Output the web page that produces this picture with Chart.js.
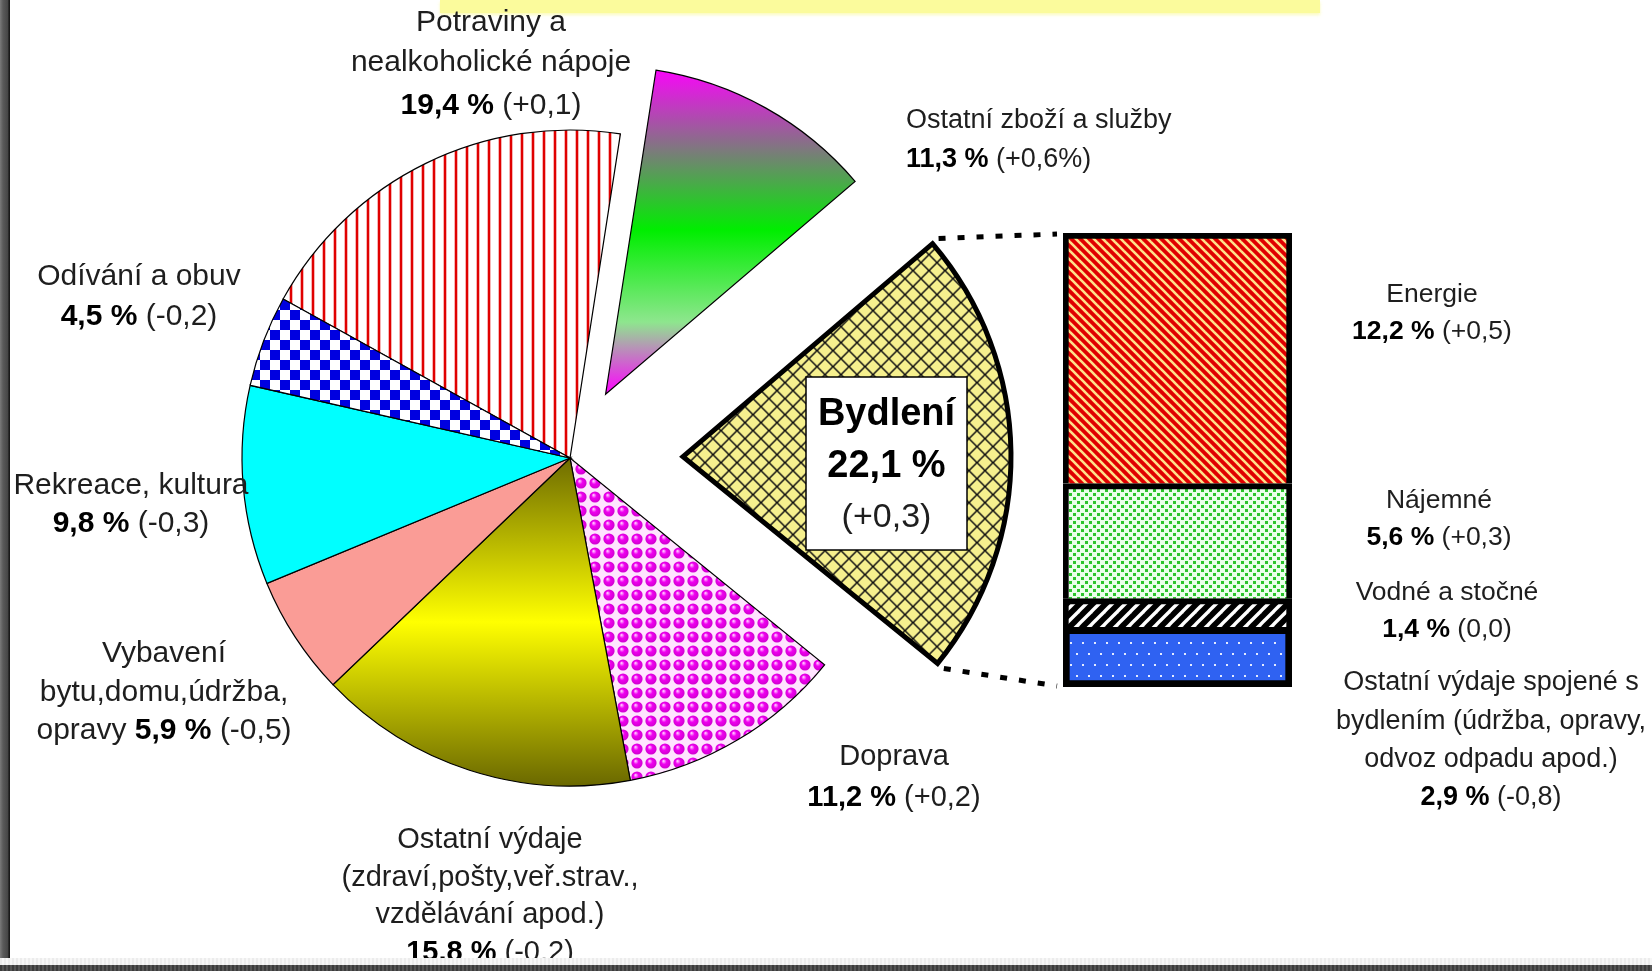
<!DOCTYPE html>
<html>
<head>
<meta charset="utf-8">
<script src="https://cdn.jsdelivr.net/npm/chart.js@4.4.1/dist/chart.umd.min.js"></script>
<style>
html,body{margin:0;padding:0;background:#fff;width:1652px;height:971px;overflow:hidden;}
#wrap{position:relative;width:1652px;height:971px;background:#fff;}
canvas{position:absolute;left:0;top:0;}
#topbar{position:absolute;left:440px;top:0;width:880px;height:13px;background:#fbfb9c;box-shadow:0 2px 3px rgba(250,250,160,0.7);}
#leftframe{position:absolute;left:0;top:0;width:10px;height:971px;z-index:5;
  background:linear-gradient(to right,#7a7a7a 0,#5a5a5a 3px,#454545 8px,#111 9px,#222 10px);}
#bottomfaint{position:absolute;left:0;top:958px;width:1652px;height:7px;z-index:5;
  background:repeating-linear-gradient(90deg,#ececec 0 2px,#f7f7f7 2px 4px);}
#bottomframe{position:absolute;left:0;top:965px;width:1652px;height:6px;z-index:6;
  background:repeating-linear-gradient(90deg,#3c3c3c 0 2px,#555 2px 4px);}
</style>
</head>
<body>
<div id="wrap">
  <div id="topbar"></div>
  <canvas id="pie" width="1652" height="971"></canvas>
  <canvas id="bar" width="1652" height="971"></canvas>
  <div id="leftframe"></div>
  <div id="bottomfaint"></div>
  <div id="bottomframe"></div>
</div>
<script>
// ---------------- DATA ----------------
const categories = [
  'Potraviny a nealkoholické nápoje',
  'Ostatní zboží a služby',
  'Bydlení',
  'Doprava',
  'Ostatní výdaje (zdraví,pošty,veř.strav., vzdělávání apod.)',
  'Vybavení bytu,domu,údržba, opravy',
  'Rekreace, kultura',
  'Odívání a obuv'
];
const shares  = [19.4, 11.3, 22.1, 11.2, 15.8, 5.9, 9.8, 4.5];
const changes = ['+0,1', '+0,6%', '+0,3', '+0,2', '-0,2', '-0,5', '-0,3', '-0,2'];

// housing breakdown, bottom -> top of the bar
const housingCategories = [
  'Ostatní výdaje spojené s bydlením (údržba, opravy, odvoz odpadu apod.)',
  'Vodné a stočné',
  'Nájemné',
  'Energie'
];
const housingShares  = [2.9, 1.4, 5.6, 12.2];
const housingChanges = ['-0,8', '0,0', '+0,3', '+0,5'];

// ---------------- LAYOUT / STYLE ----------------
const W = 1652, H = 971, CX = 570, CY = 458, R = 328;
const FONT = '"Liberation Sans", Arial, Helvetica, sans-serif';
const explode = [0, 73, 113, 0, 0, 0, 0, 0];
const fmt = v => v.toFixed(1).replace('.', ',');

function tile(w, h, draw) {
  const c = document.createElement('canvas');
  c.width = w; c.height = h;
  const g = c.getContext('2d');
  draw(g, w, h);
  return c;
}
function diag(g, p, dir, color, lw) {
  g.strokeStyle = color; g.lineWidth = lw; g.lineCap = 'square';
  for (let k = -1; k <= 1; k++) {
    g.beginPath();
    if (dir === '\\') { g.moveTo(k * p, 0); g.lineTo(k * p + p, p); }
    else { g.moveTo(k * p, p); g.lineTo(k * p + p, 0); }
    g.stroke();
  }
}

const pieCanvas = document.getElementById('pie');
const pctx = pieCanvas.getContext('2d');

// Potraviny: red vertical lines
const fPotr = pctx.createPattern(tile(11, 11, g => {
  g.fillStyle = '#fff'; g.fillRect(0, 0, 11, 11);
  g.fillStyle = '#f6b4b4'; g.fillRect(3, 0, 1, 11); g.fillRect(6, 0, 1, 11);
  g.fillStyle = '#e00000'; g.fillRect(4, 0, 2, 11);
}), 'repeat');
// Ostatní zboží: magenta - green - magenta vertical gradient
const fZbozi = pctx.createLinearGradient(0, CY - R, 0, CY);
fZbozi.addColorStop(0, '#ff00ff');
fZbozi.addColorStop(0.5, '#00ee00');
fZbozi.addColorStop(0.78, '#8ee68e');
fZbozi.addColorStop(1, '#ff00ff');
// Bydlení: pale yellow with diagonal cross hatch
const fByd = pctx.createPattern(tile(16, 16, g => {
  g.fillStyle = '#f6f08e'; g.fillRect(0, 0, 16, 16);
  diag(g, 16, '\\', '#111', 1.5);
  diag(g, 16, '/', '#111', 1.5);
}), 'repeat');
// Doprava: magenta spheres
const fDop = pctx.createPattern(tile(14, 14, g => {
  g.fillStyle = '#ffe4ff'; g.fillRect(0, 0, 14, 14);
  const gr = g.createRadialGradient(5.5, 5, 0.5, 7, 7, 6.5);
  gr.addColorStop(0, '#ffb8ff'); gr.addColorStop(0.35, '#f000f0'); gr.addColorStop(1, '#c800c8');
  g.fillStyle = gr; g.beginPath(); g.arc(7, 7, 5.6, 0, Math.PI * 2); g.fill();
}), 'repeat');
// Ostatní výdaje: olive - yellow - olive
const fVyd = pctx.createLinearGradient(0, CY, 0, CY + R);
fVyd.addColorStop(0, '#6e6c00');
fVyd.addColorStop(0.5, '#ffff00');
fVyd.addColorStop(1, '#6a6800');
// Vybavení: salmon
const fVyb = '#fa9c96';
// Rekreace: cyan
const fRek = '#00ffff';
// Odívání: blue checker
const fOdi = pctx.createPattern(tile(20, 20, g => {
  g.fillStyle = '#fff'; g.fillRect(0, 0, 20, 20);
  g.fillStyle = '#0000e0'; g.fillRect(0, 0, 10, 10); g.fillRect(10, 10, 10, 10);
}), 'repeat');
const pieFills = [fPotr, fZbozi, fByd, fDop, fVyd, fVyb, fRek, fOdi];
const pieBorders = [1.2, 1.2, 5, 1.2, 1.2, 1.2, 1.2, 1.2];

// label layout (text lines of each category; value line built from data)
const pieLabels = [
  {i: 0, x: 491, ys: [23, 63, 106], size: 30, lines: ['Potraviny a', 'nealkoholické nápoje'], align: 'center'},
  {i: 1, x: 906, ys: [121, 160], size: 27, lines: ['Ostatní zboží a služby'], align: 'left'},
  {i: 3, x: 894, ys: [757, 798], size: 29, lines: ['Doprava'], align: 'center'},
  {i: 4, x: 490, ys: [840, 878, 915, 953], size: 29, lines: ['Ostatní výdaje', '(zdraví,pošty,veř.strav.,', 'vzdělávání apod.)'], align: 'center'},
  {i: 5, x: 164, ys: [654, 693, 731], size: 30, lines: ['Vybavení', 'bytu,domu,údržba,'], prefix: 'opravy ', align: 'center'},
  {i: 6, x: 131, ys: [486, 524], size: 30, lines: ['Rekreace, kultura'], align: 'center'},
  {i: 7, x: 139, ys: [277, 317], size: 30, lines: ['Odívání a obuv'], align: 'center'}
];

function drawRuns(ctx, runs, x, y, size, align) {
  let total = 0;
  runs.forEach(r => {
    ctx.font = (r.b ? 'bold ' : '') + (r.s || size) + 'px ' + FONT;
    r.w = ctx.measureText(r.t).width; total += r.w;
  });
  let cx = align === 'left' ? x : x - total / 2;
  ctx.textBaseline = 'middle'; ctx.textAlign = 'left';
  runs.forEach(r => {
    ctx.font = (r.b ? 'bold ' : '') + (r.s || size) + 'px ' + FONT;
    ctx.fillStyle = r.b ? '#000' : '#1e1e1e';
    ctx.fillText(r.t, cx, y);
    cx += r.w;
  });
}
function valueRuns(v, chg, prefix) {
  const runs = [];
  if (prefix) runs.push({t: prefix, b: false});
  runs.push({t: fmt(v) + ' %', b: true});
  runs.push({t: ' (' + chg + ')', b: false});
  return runs;
}
function drawLabel(ctx, L, v, chg) {
  L.lines.forEach((ln, k) => drawRuns(ctx, [{t: ln, b: false}], L.x, L.ys[k], L.size, L.align));
  drawRuns(ctx, valueRuns(v, chg, L.prefix), L.x, L.ys[L.lines.length], L.size, L.align);
}

const explodePlugin = {
  id: 'explode',
  beforeDatasetDraw(chart, args) {
    const ctx = chart.ctx;
    args.meta.data.forEach((el, i) => {
      const d = explode[i] || 0;
      const mid = (el.startAngle + el.endAngle) / 2;
      ctx.save();
      ctx.translate(Math.cos(mid) * d, Math.sin(mid) * d);
      el.draw(ctx);
      ctx.restore();
    });
    return false;
  }
};

const pieLabelPlugin = {
  id: 'pieLabels',
  afterDraw(chart) {
    const ctx = chart.ctx;
    ctx.save();
    pieLabels.forEach(L => drawLabel(ctx, L, shares[L.i], changes[L.i]));
    // Bydlení label box
    const bx = 806, by = 377, bw = 161, bh = 173;
    ctx.fillStyle = '#fff'; ctx.fillRect(bx, by, bw, bh);
    ctx.strokeStyle = '#000'; ctx.lineWidth = 1.5; ctx.strokeRect(bx, by, bw, bh);
    drawRuns(ctx, [{t: 'Bydlení', b: true}], bx + bw / 2, 415, 38, 'center');
    drawRuns(ctx, [{t: fmt(shares[2]) + ' %', b: true}], bx + bw / 2, 467, 38, 'center');
    drawRuns(ctx, [{t: '(' + changes[2] + ')', b: false}], bx + bw / 2, 518, 34, 'center');
    ctx.restore();
  }
};

const pieChart = new Chart(pieCanvas, {
  type: 'pie',
  data: {
    labels: categories,
    datasets: [{
      data: shares,
      backgroundColor: pieFills,
      borderColor: '#000',
      borderWidth: pieBorders,
      borderJoinStyle: 'miter'
    }]
  },
  options: {
    responsive: false, animation: false, devicePixelRatio: 1, events: [],
    rotation: -61, radius: R,
    layout: {padding: {left: 0, top: 0, right: W - 2 * CX, bottom: H - 2 * CY}},
    plugins: {legend: {display: false}, tooltip: {enabled: false}}
  },
  plugins: [explodePlugin, pieLabelPlugin]
});

// ---------------- BAR (Bydlení breakdown) ----------------
const barCanvas = document.getElementById('bar');
const bctx = barCanvas.getContext('2d');
const fOst = bctx.createPattern(tile(12, 22, g => {
  g.fillStyle = '#2f62f2'; g.fillRect(0, 0, 12, 22);
  g.fillStyle = '#e4ebff'; g.fillRect(2, 4, 2, 2); g.fillRect(8, 15, 2, 2);
}), 'repeat');
const fVod = bctx.createPattern(tile(13, 13, g => {
  g.fillStyle = '#000'; g.fillRect(0, 0, 13, 13);
  diag(g, 13, '/', '#fff', 3.4);
}), 'repeat');
const fNaj = bctx.createPattern(tile(8, 8, g => {
  g.fillStyle = '#eaffea'; g.fillRect(0, 0, 8, 8);
  g.fillStyle = '#2cc42c'; g.fillRect(1, 1, 3, 3); g.fillRect(5, 5, 3, 3);
}), 'repeat');
const fEne = bctx.createPattern(tile(9, 9, g => {
  g.fillStyle = '#e00000'; g.fillRect(0, 0, 9, 9);
  diag(g, 9, '\\', '#ffe08a', 2.6);
}), 'repeat');
const barFills = [fOst, fVod, fNaj, fEne];
const housingTotal = housingShares.reduce((a, b) => a + b, 0);

// label placement: relative to the segment middle (shift), or fixed lines below the bar
const barLabels = [
  {i: 0, x: 1491, ys: [683, 722, 760, 798], size: 27, lines: ['Ostatní výdaje spojené s', 'bydlením (údržba, opravy,', 'odvoz odpadu apod.)'], fixed: true},
  {i: 1, x: 1447, shift: -2, size: 26.5, lines: ['Vodné a stočné']},
  {i: 2, x: 1439, shift: -22, size: 26.5, lines: ['Nájemné']},
  {i: 3, x: 1432, shift: -45, size: 26.5, lines: ['Energie']}
];

const barDecor = {
  id: 'barDecor',
  afterDraw(chart) {
    const ctx = chart.ctx;
    const area = chart.chartArea;
    const y = chart.scales.y;
    ctx.save();
    // connectors from the exploded Bydlení slice to the bar
    const arc = pieChart.getDatasetMeta(0).data[2];
    const mid = (arc.startAngle + arc.endAngle) / 2;
    const ax = arc.x + Math.cos(mid) * explode[2], ay = arc.y + Math.sin(mid) * explode[2];
    const rr = arc.outerRadius + 8;
    const p1 = [ax + Math.cos(arc.startAngle) * rr, ay + Math.sin(arc.startAngle) * rr];
    const p2 = [ax + Math.cos(arc.endAngle) * rr, ay + Math.sin(arc.endAngle) * rr];
    ctx.strokeStyle = '#000'; ctx.lineWidth = 5; ctx.setLineDash([7, 12]);
    ctx.beginPath(); ctx.moveTo(p1[0], p1[1]); ctx.lineTo(area.left - 6, area.top + 1); ctx.stroke();
    ctx.beginPath(); ctx.moveTo(p2[0], p2[1]); ctx.lineTo(area.left - 6, area.bottom - 1); ctx.stroke();
    ctx.setLineDash([]);
    // labels
    let cum = 0;
    const mids = housingShares.map(v => {
      const m = (y.getPixelForValue(cum) + y.getPixelForValue(cum + v)) / 2;
      cum += v; return m;
    });
    barLabels.forEach(L => {
      const c = mids[L.i] + (L.shift || 0);
      const ys = L.fixed ? L.ys : [c - 18.5, c + 18.5];
      drawLabel(ctx, {x: L.x, ys: ys, size: L.size, lines: L.lines, align: 'center'}, housingShares[L.i], housingChanges[L.i]);
    });
    ctx.restore();
  }
};

new Chart(barCanvas, {
  type: 'bar',
  data: {
    labels: ['Bydlení'],
    datasets: housingCategories.map((name, i) => ({
      label: name,
      data: [housingShares[i]],
      backgroundColor: barFills[i],
      borderColor: '#000',
      borderWidth: i === 0 ? 7 : 6,
      borderSkipped: i === 0 ? false : 'start',
      barPercentage: 1,
      categoryPercentage: 1
    }))
  },
  options: {
    responsive: false, animation: false, devicePixelRatio: 1, events: [],
    layout: {padding: {left: 1063, right: W - 1292, top: 233, bottom: H - 687}},
    scales: {
      x: {stacked: true, display: false},
      y: {stacked: true, display: false, min: 0, max: housingTotal}
    },
    plugins: {legend: {display: false}, tooltip: {enabled: false}}
  },
  plugins: [barDecor]
});
</script>
</body>
</html>
